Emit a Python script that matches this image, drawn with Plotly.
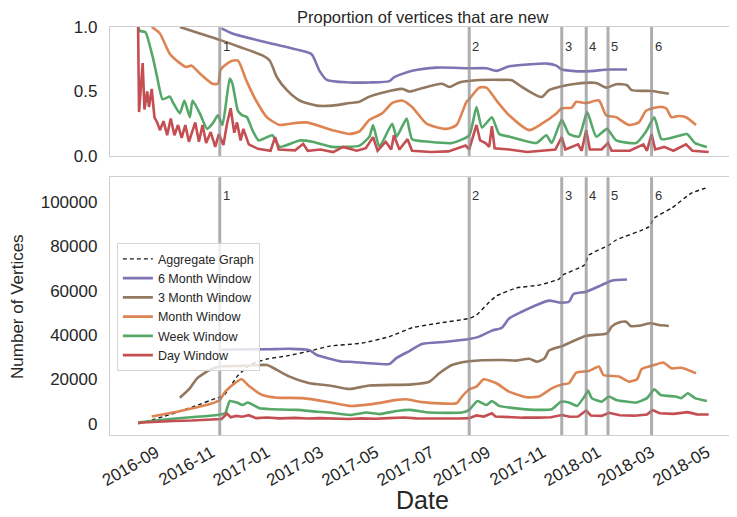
import plotly.graph_objects as go

# ---------------- event lines ----------------
event_dates = ["2016-11-10", "2017-08-12", "2017-11-22", "2017-12-19", "2018-01-12", "2018-03-01"]
event_labels = ["1", "2", "3", "4", "5", "6"]

# ---------------- bottom panel: number of vertices ----------------
agg_dates = ["2016-08-12", "2016-09-09", "2016-10-11", "2016-11-07", "2016-11-10", "2016-11-16", "2016-11-29",
             "2016-12-13", "2017-01-01", "2017-01-23", "2017-02-17", "2017-03-11", "2017-04-16", "2017-05-16",
             "2017-06-10", "2017-07-10", "2017-08-12", "2017-08-20", "2017-09-01", "2017-09-11", "2017-10-03",
             "2017-10-28", "2017-11-19", "2017-11-23", "2017-12-17", "2017-12-22", "2018-01-13", "2018-01-21",
             "2018-02-26", "2018-03-04", "2018-03-23", "2018-04-14", "2018-05-03"]
agg_vals = [0, 3300, 7600, 11700, 12000, 13500, 21300, 26500, 29200, 30600, 32800, 35000, 36400, 39300,
            43300, 45400, 47500, 49000, 54000, 57600, 61200, 62500, 65200, 67000, 71500, 76000, 80500, 82800,
            88700, 92700, 97100, 103900, 106600]

m6_dates = ["2016-11-12", "2016-11-24", "2017-01-01", "2017-01-26", "2017-02-17", "2017-02-25", "2017-03-08",
            "2017-03-26", "2017-04-02", "2017-04-24", "2017-05-16", "2017-05-24", "2017-06-07", "2017-06-21",
            "2017-07-18", "2017-08-12", "2017-08-23", "2017-09-06", "2017-09-17", "2017-09-25", "2017-10-09",
            "2017-10-28", "2017-11-08", "2017-11-21", "2017-11-30", "2017-12-05", "2017-12-19", "2018-01-05",
            "2018-01-16", "2018-02-02"]
m6_vals = [33400, 33500, 33600, 33800, 33200, 31000, 29700, 28000, 28000, 27300, 27000, 29700, 32800, 36000,
           37000, 38200, 39300, 42000, 43300, 47500, 50500, 54000, 55500, 54600, 55000, 58500, 59500, 62500,
           64500, 65000]

m3_dates = ["2016-09-27", "2016-10-08", "2016-10-16", "2016-10-30", "2016-11-10", "2016-12-05", "2017-01-01",
            "2017-01-12", "2017-01-26", "2017-02-17", "2017-03-11", "2017-04-02", "2017-04-24", "2017-06-10",
            "2017-06-29", "2017-07-10", "2017-07-24", "2017-08-12", "2017-09-17", "2017-10-03", "2017-10-17",
            "2017-10-26", "2017-11-03", "2017-11-08", "2017-11-23", "2017-12-03", "2017-12-19", "2018-01-11",
            "2018-01-16", "2018-01-24", "2018-02-01", "2018-02-06", "2018-02-15", "2018-02-28", "2018-03-09",
            "2018-03-20"]
m3_vals = [11800, 16000, 20500, 24300, 25800, 26100, 26500, 24300, 21300, 18300, 17300, 15700, 17300, 17800,
           19000, 22800, 26500, 28200, 28800, 28500, 29300, 28000, 29500, 33000, 35100, 37000, 39700, 40800,
           43800, 45700, 46000, 44100, 44200, 45300, 44500, 44100]

mon_dates = ["2016-08-27", "2016-09-24", "2016-10-16", "2016-11-02", "2016-11-10", "2016-11-16", "2016-11-24",
             "2016-12-04", "2016-12-13", "2016-12-27", "2017-01-12", "2017-02-09", "2017-03-08", "2017-04-02",
             "2017-04-27", "2017-05-24", "2017-06-04", "2017-06-21", "2017-07-29", "2017-08-04", "2017-08-12",
             "2017-08-20", "2017-08-28", "2017-09-11", "2017-09-25", "2017-10-14", "2017-10-28", "2017-11-11",
             "2017-11-23", "2017-11-30", "2017-12-08", "2017-12-22", "2018-01-02", "2018-01-07", "2018-01-24",
             "2018-02-04", "2018-02-13", "2018-02-18", "2018-03-04", "2018-03-14", "2018-03-23", "2018-04-03",
             "2018-04-19"]
mon_vals = [3300, 5500, 7500, 9300, 10800, 14500, 17500, 20100, 16800, 13000, 11800, 11600, 10000, 8100,
            8900, 10800, 11100, 9800, 9300, 12300, 15600, 16800, 20100, 18300, 14500, 12000, 12300, 16000,
            17800, 18300, 23100, 23800, 25800, 22000, 21300, 19000, 20100, 24600, 26500, 27600, 25000, 25300,
            22800]

wk_dates = ["2016-08-12", "2016-09-16", "2016-10-19", "2016-11-07", "2016-11-16", "2016-11-21", "2016-11-29",
            "2016-12-05", "2016-12-11", "2016-12-24", "2017-01-07", "2017-02-03", "2017-02-25", "2017-03-11",
            "2017-04-02", "2017-04-21", "2017-05-05", "2017-05-24", "2017-06-07", "2017-06-29", "2017-08-04",
            "2017-08-12", "2017-08-21", "2017-08-31", "2017-09-06", "2017-09-14", "2017-10-03", "2017-10-28",
            "2017-11-11", "2017-11-21", "2017-11-30", "2017-12-09", "2017-12-17", "2017-12-21", "2017-12-25",
            "2018-01-05", "2018-01-13", "2018-01-21", "2018-02-12", "2018-02-24", "2018-03-04", "2018-03-11",
            "2018-03-28", "2018-04-03", "2018-04-10", "2018-04-18", "2018-05-01"]
wk_vals = [600, 2200, 3300, 4000, 4800, 10300, 9600, 8500, 9600, 7000, 6600, 6300, 5500, 5100,
           4000, 5100, 4400, 5800, 6300, 5100, 5100, 6300, 10300, 8500, 10300, 8100, 7000, 6300,
           6600, 10000, 9600, 8100, 12300, 15000, 11600, 10000, 12300, 10800, 9600, 11600, 15600, 13000,
           12300, 11600, 13800, 11600, 10300]

day_dates = ["2016-08-12", "2016-09-01", "2016-09-20", "2016-10-10", "2016-10-25", "2016-11-08", "2016-11-12",
             "2016-11-18", "2016-11-22", "2016-11-28", "2016-12-05", "2016-12-12", "2016-12-20", "2017-01-01",
             "2017-01-15", "2017-02-01", "2017-02-15", "2017-03-01", "2017-03-15", "2017-04-01", "2017-04-15",
             "2017-05-01", "2017-05-15", "2017-06-01", "2017-06-15", "2017-07-01", "2017-07-15", "2017-08-01",
             "2017-08-12", "2017-08-20", "2017-08-28", "2017-09-06", "2017-09-10", "2017-09-25", "2017-10-10",
             "2017-10-28", "2017-11-10", "2017-11-22", "2017-12-01", "2017-12-10", "2017-12-19", "2017-12-24",
             "2018-01-05", "2018-01-13", "2018-01-25", "2018-02-10", "2018-02-24", "2018-03-02", "2018-03-10",
             "2018-03-25", "2018-04-10", "2018-04-20", "2018-05-03"]
day_vals = [500, 1000, 1300, 1500, 1700, 2000, 2200, 4600, 3000, 3600, 3200, 3900, 2600, 2900,
            2500, 2700, 2400, 2600, 2300, 2200, 2500, 2300, 2600, 2900, 2500, 2400, 2500, 2400,
            2600, 3800, 3300, 4800, 3300, 3000, 2800, 2800, 3000, 4000, 3200, 3300, 6000, 3800,
            3600, 5000, 3900, 3700, 4200, 6200, 4800, 4500, 5300, 4300, 4200]

# ---------------- top panel: proportion of new vertices ----------------
p6_dates = ["2016-11-12", "2016-11-24", "2017-01-01", "2017-02-06", "2017-02-19", "2017-02-28", "2017-03-08",
            "2017-04-02", "2017-04-24", "2017-05-16", "2017-05-21", "2017-06-10", "2017-07-07", "2017-08-12",
            "2017-08-31", "2017-09-11", "2017-09-25", "2017-10-17", "2017-11-06", "2017-11-16", "2017-11-22",
            "2017-12-03", "2017-12-19", "2018-01-13", "2018-02-02"]
p6_vals = [0.99, 0.95, 0.88, 0.82, 0.79, 0.66, 0.59, 0.57, 0.57, 0.58, 0.61, 0.66, 0.685, 0.68,
           0.68, 0.66, 0.695, 0.71, 0.716, 0.70, 0.67, 0.66, 0.656, 0.67, 0.67]

p3_dates = ["2016-09-27", "2016-10-19", "2016-11-10", "2016-12-02", "2016-12-27", "2017-01-04", "2017-01-12",
            "2017-01-23", "2017-02-06", "2017-02-25", "2017-03-14", "2017-04-02", "2017-04-13", "2017-04-24",
            "2017-05-08", "2017-05-30", "2017-06-07", "2017-06-18", "2017-07-13", "2017-07-21", "2017-08-01",
            "2017-08-20", "2017-09-17", "2017-09-28", "2017-10-09", "2017-10-25", "2017-10-31", "2017-11-08",
            "2017-11-22", "2017-12-08", "2017-12-30", "2018-01-10", "2018-01-21", "2018-02-02", "2018-02-07",
            "2018-03-01", "2018-03-20"]
p3_vals = [1.0, 0.95, 0.90, 0.845, 0.78, 0.74, 0.61, 0.51, 0.43, 0.39, 0.39, 0.41, 0.42, 0.46,
           0.49, 0.52, 0.50, 0.52, 0.56, 0.535, 0.57, 0.587, 0.59, 0.587, 0.535, 0.47, 0.457, 0.51,
           0.54, 0.56, 0.566, 0.53, 0.556, 0.548, 0.51, 0.504, 0.483]

pm_dates = ["2016-08-27", "2016-09-05", "2016-09-16", "2016-09-27", "2016-10-04", "2016-10-10", "2016-10-19",
            "2016-11-02", "2016-11-08", "2016-11-11", "2016-11-21", "2016-11-30", "2016-12-09", "2016-12-20",
            "2017-01-01", "2017-01-15", "2017-01-26", "2017-02-14", "2017-03-14", "2017-04-02", "2017-04-13",
            "2017-04-24", "2017-05-08", "2017-05-19", "2017-05-30", "2017-06-10", "2017-06-26", "2017-07-18",
            "2017-07-29", "2017-08-09", "2017-08-12", "2017-08-23", "2017-08-31", "2017-09-11", "2017-09-25",
            "2017-10-17", "2017-10-31", "2017-11-16", "2017-11-22", "2017-12-03", "2017-12-08", "2017-12-19",
            "2018-01-02", "2018-01-10", "2018-01-21", "2018-02-04", "2018-02-15", "2018-02-23", "2018-03-09",
            "2018-03-17", "2018-03-23", "2018-03-31", "2018-04-08", "2018-04-19"]
pm_vals = [1.0, 0.95, 0.79, 0.72, 0.69, 0.70, 0.64, 0.56, 0.56, 0.67, 0.73, 0.74, 0.59, 0.43,
           0.30, 0.24, 0.25, 0.26, 0.20, 0.17, 0.19, 0.28, 0.33, 0.41, 0.43, 0.38, 0.25, 0.21,
           0.24, 0.42, 0.44, 0.53, 0.53, 0.43, 0.315, 0.20, 0.25, 0.33, 0.37, 0.375, 0.42, 0.41,
           0.43, 0.315, 0.30, 0.24, 0.26, 0.35, 0.38, 0.37, 0.30, 0.31, 0.30, 0.24]

pw_dates = ["2016-08-12", "2016-08-14", "2016-08-20", "2016-08-28", "2016-09-02", "2016-09-08", "2016-09-16",
            "2016-09-19", "2016-09-27", "2016-10-02", "2016-10-08", "2016-10-11", "2016-10-19", "2016-10-27",
            "2016-11-02", "2016-11-08", "2016-11-13", "2016-11-21", "2016-11-24", "2016-11-30", "2016-12-05",
            "2016-12-10", "2016-12-16", "2016-12-23", "2017-01-07", "2017-01-15", "2017-02-06", "2017-02-20",
            "2017-03-14", "2017-04-13", "2017-04-24", "2017-04-28", "2017-05-05", "2017-05-19", "2017-05-24",
            "2017-06-04", "2017-06-10", "2017-06-29", "2017-07-24", "2017-08-12", "2017-08-20", "2017-08-26",
            "2017-09-06", "2017-09-14", "2017-09-25", "2017-10-25", "2017-11-05", "2017-11-11", "2017-11-22",
            "2017-11-30", "2017-12-11", "2017-12-20", "2017-12-30", "2018-01-11", "2018-01-21", "2018-02-12",
            "2018-02-23", "2018-03-04", "2018-03-12", "2018-03-28", "2018-04-09", "2018-04-18", "2018-05-01"]
pw_vals = [1.0, 0.97, 0.96, 0.77, 0.61, 0.44, 0.46, 0.42, 0.33, 0.43, 0.30, 0.43, 0.33, 0.21,
           0.25, 0.315, 0.24, 0.60, 0.56, 0.35, 0.315, 0.30, 0.20, 0.12, 0.16, 0.07, 0.12, 0.11,
           0.07, 0.08, 0.15, 0.24, 0.07, 0.25, 0.15, 0.29, 0.13, 0.11, 0.10, 0.16, 0.38, 0.22,
           0.30, 0.17, 0.15, 0.10, 0.16, 0.10, 0.28, 0.17, 0.15, 0.34, 0.15, 0.21, 0.12, 0.10,
           0.19, 0.30, 0.13, 0.15, 0.17, 0.10, 0.07]

pd_dates = ["2016-08-12", "2016-08-13", "2016-08-17", "2016-08-19", "2016-08-22", "2016-08-24", "2016-08-27",
            "2016-08-30", "2016-09-02", "2016-09-05", "2016-09-09", "2016-09-13", "2016-09-17", "2016-09-21",
            "2016-09-25", "2016-09-29", "2016-10-03", "2016-10-07", "2016-10-14", "2016-10-18", "2016-10-22",
            "2016-10-26", "2016-10-31", "2016-11-05", "2016-11-09", "2016-11-14", "2016-11-18", "2016-11-22",
            "2016-11-26", "2016-11-29", "2016-12-03", "2016-12-06", "2016-12-12", "2016-12-22", "2017-01-05",
            "2017-01-10", "2017-01-14", "2017-02-01", "2017-02-10", "2017-02-15", "2017-03-01", "2017-03-15",
            "2017-03-26", "2017-04-10", "2017-04-20", "2017-04-28", "2017-05-03", "2017-05-12", "2017-05-18",
            "2017-05-21", "2017-05-27", "2017-06-05", "2017-06-10", "2017-07-01", "2017-07-20", "2017-08-08",
            "2017-08-12", "2017-08-17", "2017-08-20", "2017-08-24", "2017-08-30", "2017-09-03", "2017-09-06",
            "2017-09-09", "2017-09-25", "2017-10-15", "2017-11-05", "2017-11-15", "2017-11-22", "2017-11-26",
            "2017-12-10", "2017-12-14", "2017-12-19", "2017-12-23", "2018-01-05", "2018-01-12", "2018-01-16",
            "2018-02-05", "2018-02-20", "2018-02-24", "2018-03-01", "2018-03-05", "2018-03-15", "2018-03-25",
            "2018-04-08", "2018-04-15", "2018-05-03"]
pd_vals = [1.0, 0.34, 0.72, 0.36, 0.50, 0.38, 0.52, 0.30, 0.26, 0.20, 0.27, 0.16, 0.29, 0.16,
           0.24, 0.14, 0.24, 0.11, 0.26, 0.11, 0.24, 0.10, 0.185, 0.07, 0.17, 0.085, 0.25, 0.37,
           0.18, 0.26, 0.12, 0.21, 0.09, 0.055, 0.04, 0.146, 0.05, 0.043, 0.094, 0.04, 0.05, 0.03,
           0.07, 0.04, 0.06, 0.146, 0.04, 0.11, 0.05, 0.16, 0.05, 0.13, 0.04, 0.03, 0.035, 0.08,
           0.05, 0.18, 0.24, 0.12, 0.10, 0.07, 0.23, 0.06, 0.05, 0.03, 0.04, 0.05, 0.146, 0.05,
           0.09, 0.04, 0.20, 0.05, 0.05, 0.10, 0.04, 0.04, 0.09, 0.04, 0.17, 0.05, 0.07, 0.04,
           0.09, 0.04, 0.03]

# ---------------- styling ----------------
C_PURPLE = "#8172B3"
C_BROWN = "#937860"
C_ORANGE = "#DD8452"
C_GREEN = "#55A868"
C_RED = "#C44E52"
FONT = "Arial, Liberation Sans, sans-serif"
TXT = "#262626"
FRAME = "#cfcfcf"
LW = 2.6

fig = go.Figure()

top_series = [(p6_dates, p6_vals, C_PURPLE, 0.7), (p3_dates, p3_vals, C_BROWN, 0.7),
              (pm_dates, pm_vals, C_ORANGE, 0.6), (pw_dates, pw_vals, C_GREEN, 0.5),
              (pd_dates, pd_vals, C_RED, 0.0)]
for d, v, c, sm in top_series:
    line = dict(color=c, width=LW)
    if sm > 0:
        line.update(shape="spline", smoothing=sm)
    fig.add_trace(go.Scatter(x=d, y=v, mode="lines", line=line,
                             xaxis="x", yaxis="y", showlegend=False, hoverinfo="skip"))

fig.add_trace(go.Scatter(x=agg_dates, y=agg_vals, mode="lines", name="Aggregate Graph",
                         line=dict(color="#1a1a1a", width=1.4, dash="4px,3px", shape="spline", smoothing=0.5),
                         xaxis="x2", yaxis="y2"))
bottom_series = [(m6_dates, m6_vals, C_PURPLE, "6 Month Window", 0.6),
                 (m3_dates, m3_vals, C_BROWN, "3 Month Window", 0.6),
                 (mon_dates, mon_vals, C_ORANGE, "Month Window", 0.5),
                 (wk_dates, wk_vals, C_GREEN, "Week Window", 0.4),
                 (day_dates, day_vals, C_RED, "Day Window", 0.0)]
for d, v, c, n, sm in bottom_series:
    line = dict(color=c, width=LW)
    if sm > 0:
        line.update(shape="spline", smoothing=sm)
    fig.add_trace(go.Scatter(x=d, y=v, mode="lines", name=n, line=line,
                             xaxis="x2", yaxis="y2"))

shapes = []
annotations = []
for ed, lab in zip(event_dates, event_labels):
    for xr, yr, ypos in (("x", "y domain", 0.85), ("x2", "y2 domain", 0.93)):
        shapes.append(dict(type="line", xref=xr, yref=yr, x0=ed, x1=ed, y0=0, y1=1,
                           line=dict(color="rgba(140,140,140,0.7)", width=3), layer="above"))
        annotations.append(dict(text=lab, xref=xr, yref=yr, x=ed, y=ypos, xanchor="left", yanchor="middle",
                                xshift=1, showarrow=False, font=dict(family=FONT, size=13, color="#333333")))

annotations.append(dict(text="Proportion of vertices that are new", xref="paper", yref="paper", x=0.5, y=1.0,
                        yshift=10, xanchor="center", yanchor="middle", showarrow=False,
                        font=dict(family=FONT, size=16.5, color=TXT)))
annotations.append(dict(text="Date", xref="paper", yref="paper", x=0.5, y=-0.16, xanchor="center",
                        yanchor="middle", showarrow=False, font=dict(family=FONT, size=25, color=TXT)))
annotations.append(dict(text="Number of Vertices", xref="paper", yref="paper", x=-0.149, y=0.316,
                        xanchor="center", yanchor="middle", textangle=-90, showarrow=False,
                        font=dict(family=FONT, size=17, color=TXT)))

axis_common = dict(showline=True, mirror=True, linecolor=FRAME, linewidth=1.3, showgrid=False,
                   zeroline=False, ticks="", automargin=False,
                   tickfont=dict(family=FONT, size=17, color=TXT))
xrange = ["2016-07-12", "2018-06-01"]

# the page body adds an 8px offset, so the figure is sized to fit the window after that offset
fig.update_layout(
    width=729, height=509,
    margin=dict(l=102, r=2, t=19, b=82, autoexpand=False),
    plot_bgcolor="white", paper_bgcolor="white",
    xaxis=dict(domain=[0, 1], anchor="y", range=xrange, type="date", showticklabels=False,
               **axis_common),
    yaxis=dict(domain=[0.684, 1], anchor="x", range=[0, 1], tickvals=[0, 0.5, 1.0],
               ticktext=["0.0", "0.5", "1.0"], ticklabelstandoff=8, **axis_common),
    xaxis2=dict(domain=[0, 1], anchor="y2", range=xrange, type="date", tick0="2016-09-01", dtick="M2",
                tickformat="%Y-%m", tickangle=-30, ticklabelstandoff=0, **axis_common),
    yaxis2=dict(domain=[0, 0.632], anchor="x2", range=[-5000, 111100],
                tickvals=[0, 20000, 40000, 60000, 80000, 100000],
                ticktext=["0", "20000", "40000", "60000", "80000", "100000"], ticklabelstandoff=8,
                **axis_common),
    legend=dict(x=0.011, y=0.47, xanchor="left", yanchor="top", bgcolor="rgba(255,255,255,0.8)",
                bordercolor="#d5d5d5", borderwidth=1, font=dict(family=FONT, size=12.5, color=TXT),
                tracegroupgap=0, itemwidth=30),
    shapes=shapes,
    annotations=annotations,
    showlegend=True,
)

fig.write_html("out.html")
